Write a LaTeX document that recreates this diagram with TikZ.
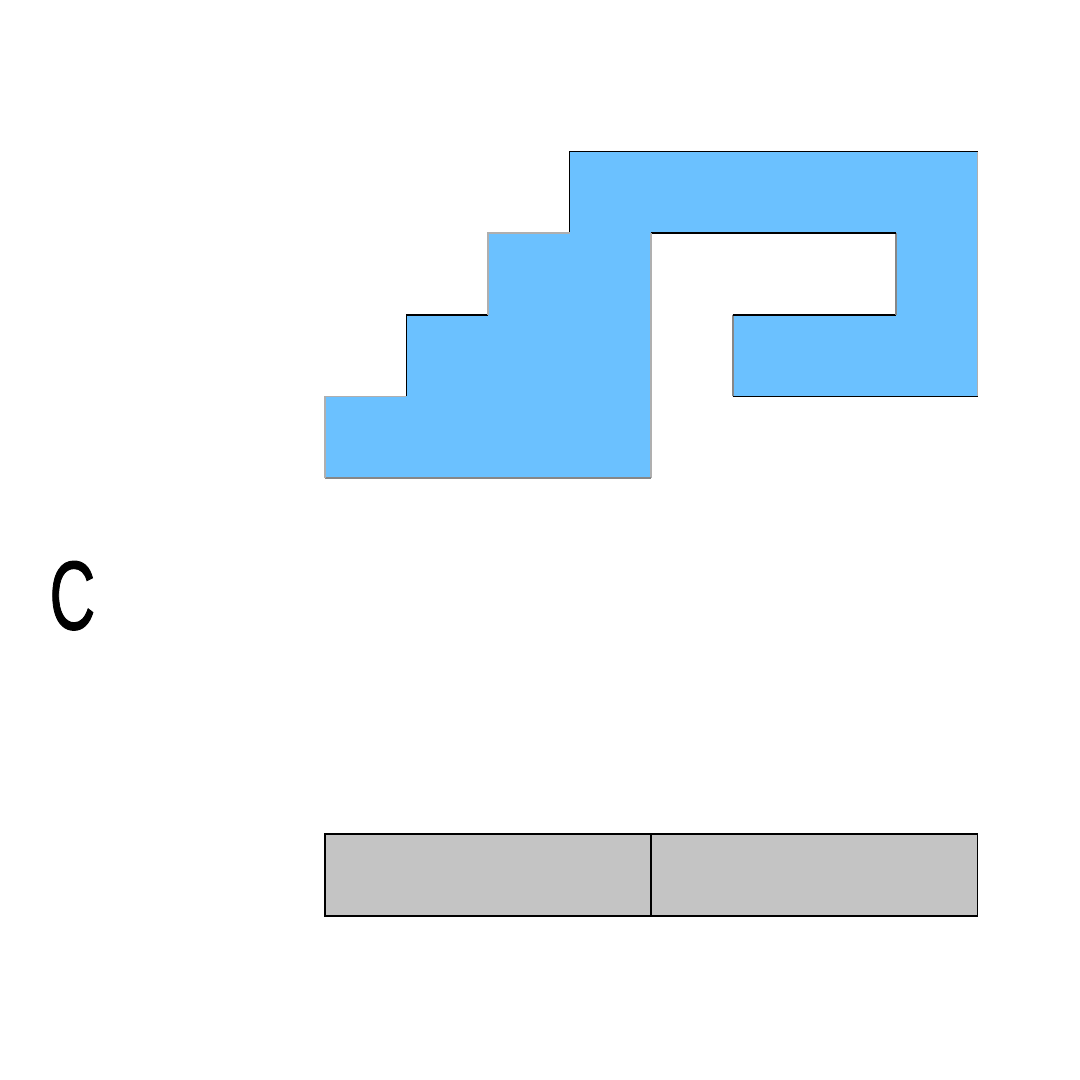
\documentclass[tikz,border=0pt]{standalone}
\usepackage{fontspec}
\setmainfont{Liberation Sans}
\newfontfamily\labelfont[FakeBold=1.2]{Liberation Sans}
\definecolor{tileblue}{RGB}{107,193,255}
\definecolor{bargray}{RGB}{196,196,196}
\definecolor{edgelight}{RGB}{175,175,175}
\definecolor{edgemid}{RGB}{135,135,135}
\begin{document}
\begin{tikzpicture}[x=0.01cm,y=-0.01cm,
  blackedge/.style={draw=black,line width=0.45pt},
  lightedge/.style={draw=edgelight,line width=0.45pt},
  midedge/.style={draw=edgemid,line width=0.45pt},
  barcell/.style={fill=bargray,draw=black,line width=0.55pt},
  letter/.style={inner sep=0pt,font=\labelfont\fontsize{27.8}{30}\selectfont,xscale=0.65}]
\useasboundingbox (0,0) rectangle (1080,1080);
% grid coordinates
\coordinate (p1) at (569.5,151.6);
\coordinate (p2) at (977.5,151.6);
\coordinate (p3) at (977.5,396.4);
\coordinate (p4) at (732.7,396.4);
\coordinate (p5) at (732.7,314.8);
\coordinate (p6) at (895.9,314.8);
\coordinate (p7) at (895.9,233.2);
\coordinate (p8) at (651.1,233.2);
\coordinate (p9) at (651.1,478);
\coordinate (p10) at (324.7,478);
\coordinate (p11) at (324.7,396.4);
\coordinate (p12) at (406.3,396.4);
\coordinate (p13) at (406.3,314.8);
\coordinate (p14) at (487.9,314.8);
\coordinate (p15) at (487.9,233.2);
\coordinate (p16) at (569.5,233.2);
% blue polyomino
\fill[tileblue] (p1) -- (p2) -- (p3) -- (p4) -- (p5) -- (p6) -- (p7) -- (p8) -- (p9) -- (p10) -- (p11) -- (p12) -- (p13) -- (p14) -- (p15) -- (p16) -- cycle;
% outline edges
\draw[blackedge] (p16) -- (p1) -- (p2);
\draw[lightedge] (p2) -- (p3);
\draw[blackedge] (p3) -- (p4);
\draw[midedge] (p4) -- (p5);
\draw[blackedge] (p5) -- (p6);
\draw[midedge] (p6) -- (p7);
\draw[blackedge] (p7) -- (p8);
\draw[lightedge] (p8) -- (p9);
\draw[midedge] (p9) -- (p10);
\draw[lightedge] (p10) -- (p11) -- (p12);
\draw[blackedge] (p12) -- (p13) -- (p14);
\draw[lightedge] (p14) -- (p15) -- (p16);
% label
\node[letter] (lblC) at (72.4,595.7) {C};
% grey bar
\node[barcell,minimum width=326.4*0.01cm,minimum height=81.6*0.01cm,inner sep=0pt] (barL) at (487.9,875.1) {};
\node[barcell,minimum width=326.4*0.01cm,minimum height=81.6*0.01cm,inner sep=0pt] (barR) at (814.3,875.1) {};
\end{tikzpicture}
\end{document}
